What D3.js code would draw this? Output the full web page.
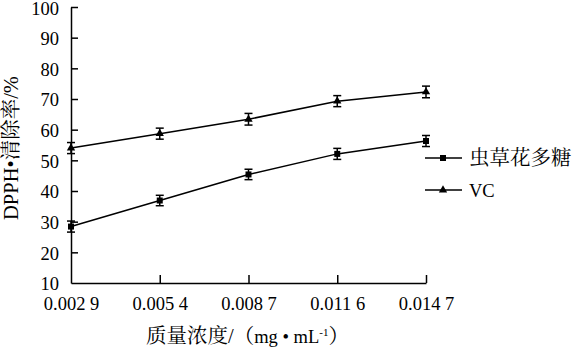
<!DOCTYPE html>
<html>
<head>
<meta charset="utf-8">
<script src="https://cdn.jsdelivr.net/npm/d3@7"></script>
<style>
  body { margin: 0; background: #fff; }
  svg text { font-family: "Liberation Serif", "Times New Roman", "Noto Serif CJK SC", "Noto Sans CJK SC", serif; fill: #000; }
</style>
</head>
<body>
<div id="chart"></div>
<script>
const width = 578;
const height = 352;

const concentrations = ["0.002 9", "0.005 4", "0.008 7", "0.011 6", "0.014 7"];
const polysaccharide = [28.4, 36.9, 45.4, 52.1, 56.3];
const polysaccharideErr = [1.8, 1.7, 1.7, 1.8, 1.8];
const vitaminC = [54.0, 58.7, 63.4, 69.3, 72.3];
const vitaminCErr = [1.8, 1.8, 1.9, 1.8, 1.9];
const yTicks = [10, 20, 30, 40, 50, 60, 70, 80, 90, 100];

const margin = { left: 71, right: 152, top: 7, bottom: 69 };

const svg = d3.select("#chart")
    .append("svg")
    .attr("width", width)
    .attr("height", height);

const x = d3.scalePoint()
    .domain(concentrations)
    .range([margin.left, width - margin.right]);

const y = d3.scaleLinear()
    .domain([10, 100])
    .range([height - margin.bottom, margin.top]);

// axes
const xAxis = svg.append("g")
    .attr("transform", `translate(0,${height - margin.bottom})`)
    .call(d3.axisBottom(x).tickSize(-8).tickPadding(14).tickSizeOuter(0));

const yAxis = svg.append("g")
    .attr("transform", `translate(${margin.left},0)`)
    .call(d3.axisLeft(y).tickValues(yTicks).tickSize(-7).tickPadding(12).tickSizeOuter(0));

[xAxis, yAxis].forEach(g => {
    g.attr("font-family", null).attr("font-size", 18.5);
    g.select(".domain").attr("stroke", "#000").attr("stroke-width", 1.5);
    g.selectAll(".tick line").attr("stroke", "#000").attr("stroke-width", 1.5);
    g.selectAll(".tick text").attr("fill", "#000");
});
yAxis.selectAll(".tick text").attr("dy", d => d === 100 ? "0.42em" : "0.36em");
// first y tick sits on the x axis; keep the label only
yAxis.selectAll(".tick line").filter(d => d === 10).remove();
xAxis.selectAll(".tick line").filter((d, i) => i === 0).remove();

// series
const series = [
    { name: "虫草花多糖", values: polysaccharide, err: polysaccharideErr, symbol: d3.symbolSquare, size: 36, fs: 20.5 },
    { name: "VC", values: vitaminC, err: vitaminCErr, symbol: d3.symbolTriangle, size: 30, fs: 18.5 }
];

const line = d3.line()
    .x((d, i) => x(concentrations[i]))
    .y(d => y(d));

series.forEach(s => {
    const g = svg.append("g");
    g.append("path")
        .attr("d", line(s.values))
        .attr("fill", "none")
        .attr("stroke", "#000")
        .attr("stroke-width", 1.5);

    const bars = g.selectAll(".err")
        .data(s.values)
        .enter()
        .append("g");
    bars.append("line")
        .attr("x1", (d, i) => x(concentrations[i]))
        .attr("x2", (d, i) => x(concentrations[i]))
        .attr("y1", (d, i) => y(d - s.err[i]))
        .attr("y2", (d, i) => y(d + s.err[i]))
        .attr("stroke", "#000").attr("stroke-width", 1.5);
    [-1, 1].forEach(sign => {
        bars.append("line")
            .attr("x1", (d, i) => x(concentrations[i]) - 4)
            .attr("x2", (d, i) => x(concentrations[i]) + 4)
            .attr("y1", (d, i) => y(d + sign * s.err[i]))
            .attr("y2", (d, i) => y(d + sign * s.err[i]))
            .attr("stroke", "#000").attr("stroke-width", 1.5);
    });

    g.selectAll(".pt")
        .data(s.values)
        .enter()
        .append("path")
        .attr("d", d3.symbol().type(s.symbol).size(s.size))
        .attr("transform", (d, i) => `translate(${x(concentrations[i])},${y(d)})`)
        .attr("fill", "#000");
});

// legend
const legend = svg.append("g");
series.forEach((s, i) => {
    const ly = 158 + i * 32;
    legend.append("line")
        .attr("x1", 425).attr("x2", 462)
        .attr("y1", ly).attr("y2", ly)
        .attr("stroke", "#000").attr("stroke-width", 1.5);
    legend.append("path")
        .attr("d", d3.symbol().type(s.symbol).size(s.size))
        .attr("transform", `translate(443,${ly})`)
        .attr("fill", "#000");
    legend.append("text")
        .attr("x", 469).attr("y", ly + 7)
        .style("font-size", s.fs + "px")
        .text(s.name);
});

// axis titles
const xTitle = svg.append("text")
    .attr("x", 146).attr("y", 343)
    .style("font-size", "18.5px");
xTitle.append("tspan").style("font-size", "20.5px").text("质量浓度/");
xTitle.append("tspan").style("font-size", "20.5px").text("（");
xTitle.append("tspan").text("mg • mL");
xTitle.append("tspan").attr("dy", -7).style("font-size", "11px").text("-1");
xTitle.append("tspan").attr("dy", 7).style("font-size", "20.5px").text("）");

const yTitle = svg.append("text")
    .attr("transform", `translate(18,${148}) rotate(-90)`)
    .attr("text-anchor", "middle")
    .style("font-size", "20.5px");
yTitle.append("tspan").text("DPPH•");
yTitle.append("tspan").text("清除率/%");
</script>
</body>
</html>
